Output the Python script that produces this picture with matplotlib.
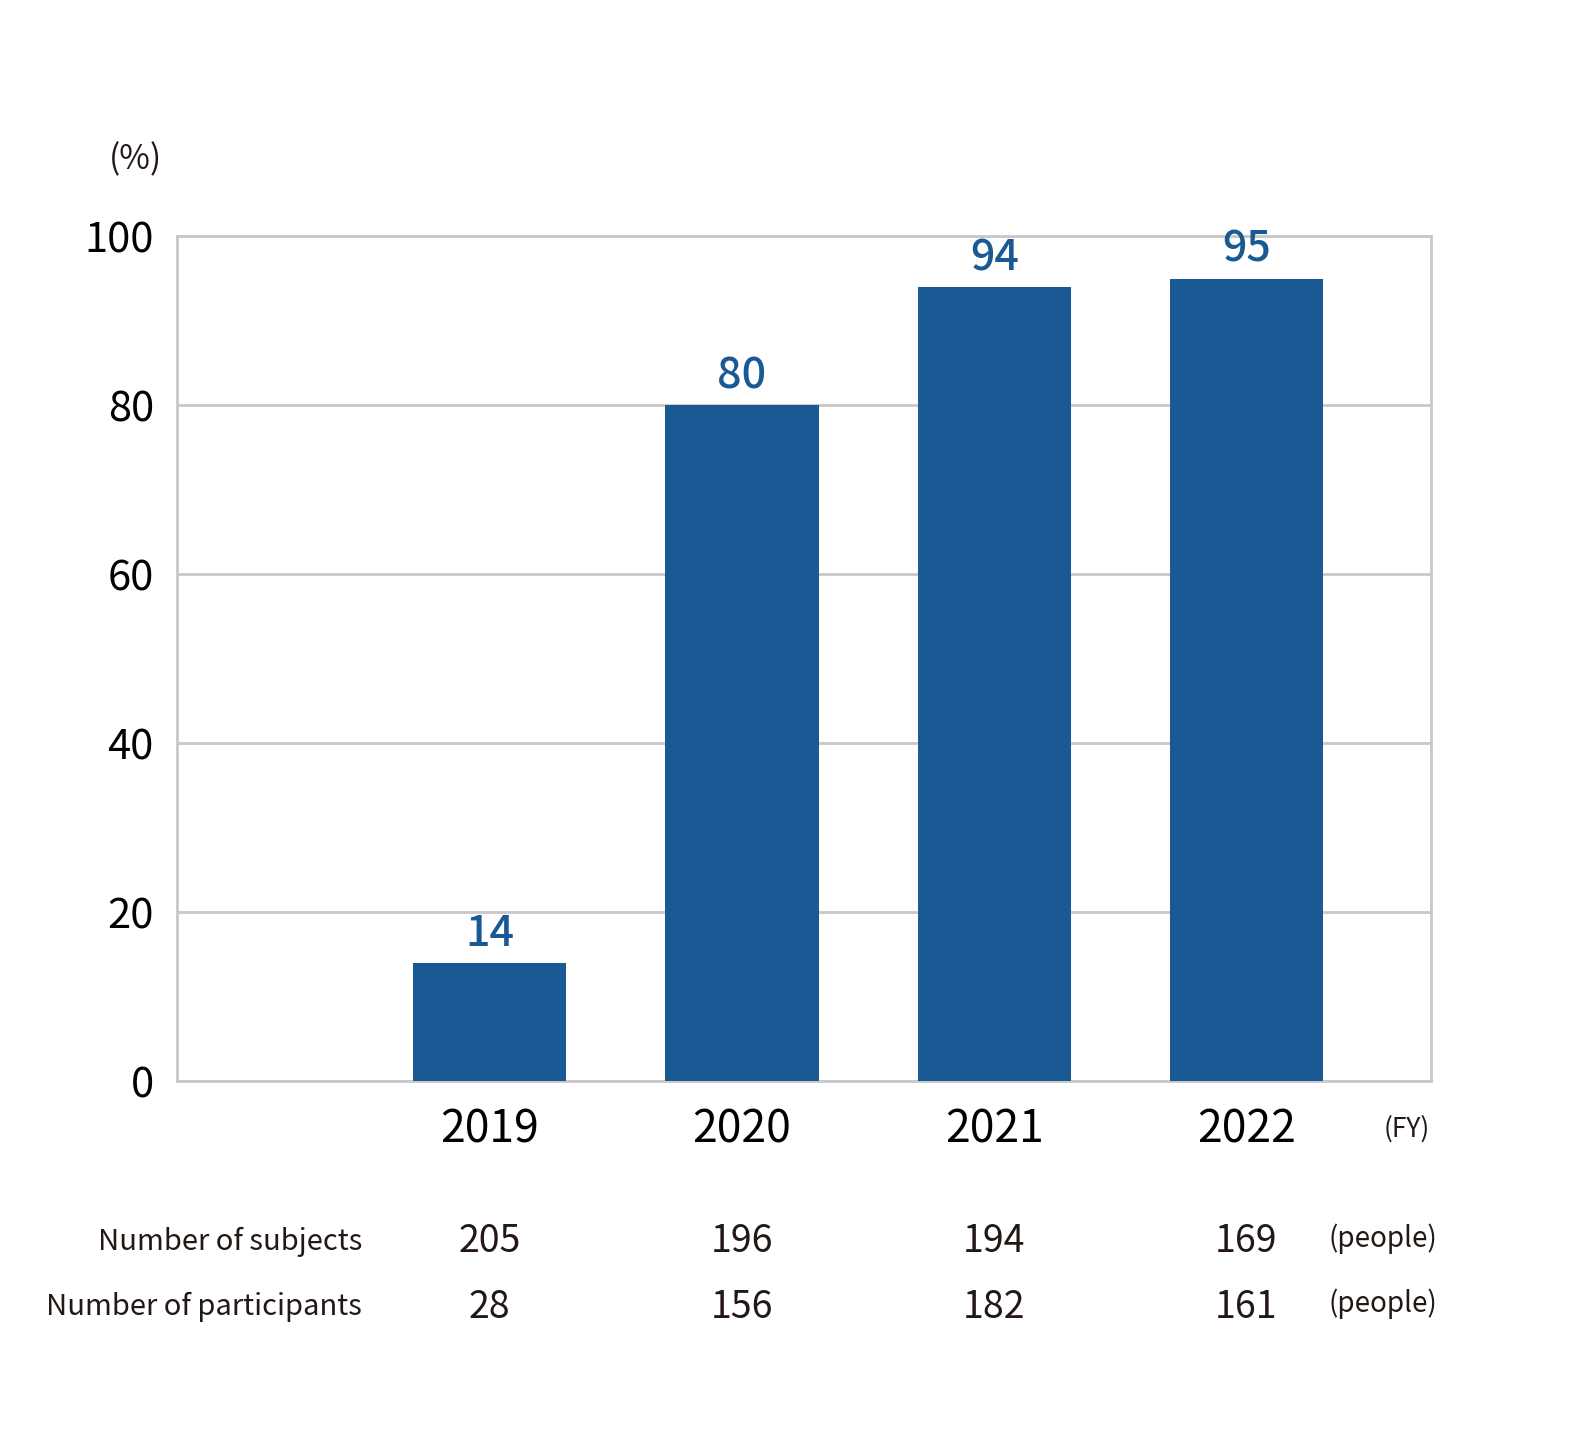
import matplotlib
matplotlib.use("Agg")
import matplotlib.pyplot as plt

plt.rcParams['font.family'] = ['Noto Sans CJK JP', 'DejaVu Sans']

# データ
years = ['2019', '2020', '2021', '2022']
rates = [14, 80, 94, 95]
subjects = [205, 196, 194, 169]
participants = [28, 156, 182, 161]
y_ticks = [0, 20, 40, 60, 80, 100]

BAR_COLOR = '#1a5a94'
TEXT_COLOR = '#231815'
GRID_COLOR = '#c8c8c8'

fig = plt.figure(figsize=(15.9, 14.4), dpi=100)
ax = fig.add_axes([0.1116, 0.2493, 0.7883, 0.5866])

x = list(range(len(years)))
bars = ax.bar(x, rates, width=0.607, color=BAR_COLOR, zorder=3)

# 値ラベル
for xi, v in zip(x, rates):
    ax.annotate(str(v), xy=(xi, v), xytext=(0, 21), textcoords='offset points',
                ha='center', va='center', fontsize=31, fontweight='medium',
                color=BAR_COLOR)

ax.set_xlim(-1.238, 3.731)
ax.set_ylim(0, 100)
ax.set_yticks(y_ticks)
ax.set_xticks(x)
ax.set_xticklabels(years)
ax.tick_params(axis='y', length=0, pad=17, labelsize=30, labelcolor='black')
ax.tick_params(axis='x', length=0, pad=18, labelsize=32, labelcolor='black')

ax.grid(axis='y', color=GRID_COLOR, linewidth=2, zorder=0)
for s in ax.spines.values():
    s.set_color(GRID_COLOR)
    s.set_linewidth(2)

# 単位
fig.text(135 / 1590, 1 - 160 / 1440, '(%)', ha='center', va='center',
         fontsize=24, color=TEXT_COLOR)
fig.text(1407 / 1590, 1 - 1129 / 1440, '(FY)', ha='center', va='center',
         fontsize=19, color=TEXT_COLOR)

# 下部の表
rows = [('Number of subjects', subjects, 1242), ('Number of participants', participants, 1307)]
for label, vals, ypix in rows:
    yf = 1 - ypix / 1440
    fig.text(362 / 1590, yf, label, ha='right', va='center', fontsize=21,
             color=TEXT_COLOR)
    for xi, v in zip(x, vals):
        xd = ax.transData.transform((xi, 0))[0]
        fig.text(xd / fig.bbox.width, yf, str(v), ha='center', va='center',
                 fontsize=27, color=TEXT_COLOR)
    fig.text(1383 / 1590, yf + 0.002, '(people)', ha='center', va='center',
             fontsize=20, color=TEXT_COLOR)

fig.savefig('out.png', dpi=100, facecolor='white')
